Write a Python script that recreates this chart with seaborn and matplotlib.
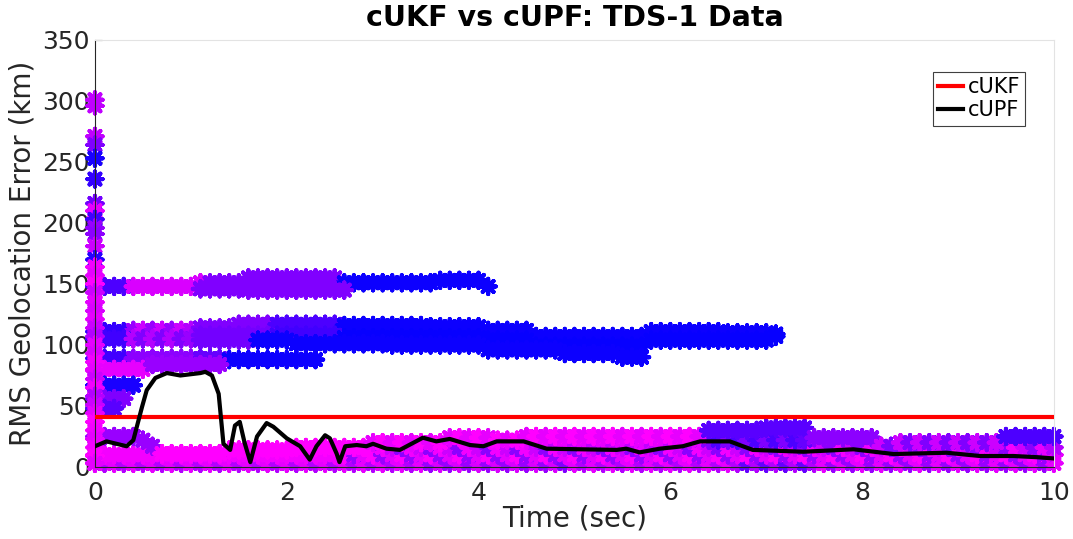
import numpy as np
import pandas as pd
import matplotlib
matplotlib.use("Agg")
import matplotlib.pyplot as plt
from matplotlib.colors import LinearSegmentedColormap
import seaborn as sns

# ---------------- data ----------------
TIME = np.round(np.arange(101) * 0.1, 1)          # particle time grid (sec)

# cUKF (constant)
UKF_T = [0.0, 10.0]
UKF_V = [41, 41]

# cUPF RMS error
UPF_T = [0, 0.12, 0.33, 0.4, 0.49, 0.54, 0.63, 0.75, 0.89, 1.1, 1.15, 1.22, 1.29, 1.34,
         1.41, 1.46, 1.51, 1.56, 1.62, 1.69, 1.79, 1.86, 2.0, 2.14, 2.24, 2.31, 2.4, 2.45,
         2.52, 2.55, 2.61, 2.73, 2.83, 2.9, 3.04, 3.18, 3.42, 3.56, 3.7, 3.91, 4.05, 4.19,
         4.47, 4.71, 5.44, 5.54, 5.68, 5.89, 6.13, 6.31, 6.62, 6.86, 7.39, 7.91, 8.33,
         8.88, 9.23, 9.58, 9.83, 10.0]
UPF_V = [17, 21, 17, 22, 49, 63, 73, 77, 75, 77, 78, 75, 60, 19,
         14, 34, 37, 20, 4, 25, 36, 33, 23.5, 17, 6, 17, 26, 23.5,
         11, 4, 17, 18, 17, 19, 15, 14, 24, 21, 23, 18, 17, 21,
         21, 15, 14, 15, 12, 15, 17, 21, 21, 14, 12.5, 14.5, 10.6,
         11.7, 9, 9, 8, 7]

# particle rows: (start index on TIME grid, y values, weights 0=blue..1=magenta)
BAND_A_HI = [148]*11 + [151]*5 + [155]*10 + [151]*10 + [153]*5 + [148]*1
BAND_A_HI_W = [0.3]*4 + [0.85]*8 + [0.5]*14 + [0.05]*16
BAND_A_LO = [146]*5 + [145]*11
BAND_A_LO_W = [0.5]*16

BAND_B1 = [111]*4 + [112]*7 + [114]*4 + [117]*11 + [116]*9 + [115]*6 + [112]*5 + [107]*12 + [111]*8 + [110]*5 + [109]
BAND_B1_W = [0.2]*4 + [0.6, 0.8]*3 + [0.7] + [0.5]*8 + [0.3]*7 + [0.05]*46
BAND_B2 = [105]*11 + [108]*15 + [106]*15 + [104]*5 + [99]*12 + [104]*13 + [107]
BAND_B2_W = [0.25]*4 + [0.7, 0.5]*3 + [0.6] + [0.45]*8 + [0.25]*7 + [0.03]*46
BAND_B3 = [104]*10 + [101]*10 + [100]*10 + [96]*8 + [93]*6 + [90]*3
BAND_B3_W = [0.45]*6 + [0.05]*41

BAND_C1 = [89]*14 + [88]*10
BAND_C1_W = [0.25]*4 + [0.55]*7 + [0.4]*3 + [0.05]*10
BAND_C2 = [80]*6 + [84]*8
BAND_C2_W = [0.9]*6 + [0.6]*8

SHORT_67 = [67]*5
SHORT_67_W = [0.1]*5
SHORT_56 = [56]*4
SHORT_56_W = [0.5]*4
SHORT_48 = [48]*3
SHORT_48_W = [0.35]*3

LOW_BOT = [3]*101
LOW_BOT_W = [0.9, 0.7]*17 + [0.9] + [0.6, 0.85]*7 + [0.5] + [0.9, 0.7]*9 + [0.4, 0.7]*4 + [0.9, 0.6]*12 + [0.9]
LOW_MID1 = [10]*101
LOW_MID1_W = [0.95]*26 + [1.0, 0.6, 0.9]*25
LOW_MID2 = [16]*71
LOW_MID2_W = [0.95, 0.8, 0.55]*23 + [0.9, 0.7]
LOW_MID3 = [22]*30
LOW_MID3_W = [0.9, 0.75]*9 + [0.9] + [0.5, 0.3]*5 + [0.4]
LOW_TOP = ([25]*5 + [22] + [17] + [11]*7 + [14]*7 + [16]*8 + [20]*8 + [24]*5 + [22]*3 +
           [25]*19 + [30]*6 + [32]*5 + [24]*7 + [17]*2 + [20]*11 + [25]*6)
LOW_TOP_W = ([0.6]*7 + [1.0]*22 + [0.9, 1.0]*17 + [0.9] + [0.35]*11 + [0.55]*7 +
             [0.8, 0.5]*6 + [0.8] + [0.3]*6)

COL0 = [301, 296, 271, 264, 253, 236, 216, 210, 203, 196, 191, 181, 170, 164, 157, 150,
        143, 135, 128, 121, 114, 107, 100, 93, 86, 79, 72, 65, 58, 51, 44, 37, 30, 23, 16, 9, 3]
COL0_W = [0.75, 0.75, 0.75, 0.5, 0.1, 0.2, 0.45, 0.9, 0.25, 0.6, 0.55, 0.8, 0.15, 0.95, 0.9, 1.0,
          0.8, 0.9, 0.85, 0.9, 0.8, 0.7, 0.9, 0.85, 0.95, 0.9, 0.8, 0.95, 0.7, 0.8, 0.9, 1.0,
          0.95, 0.9, 0.95, 1.0, 0.9]

ROWS = [
    (0, BAND_A_HI, BAND_A_HI_W), (11, BAND_A_LO, BAND_A_LO_W),
    (0, BAND_B1, BAND_B1_W), (0, BAND_B2, BAND_B2_W), (11, BAND_B3, BAND_B3_W),
    (0, BAND_C1, BAND_C1_W), (0, BAND_C2, BAND_C2_W),
    (0, SHORT_67, SHORT_67_W), (0, SHORT_56, SHORT_56_W), (0, SHORT_48, SHORT_48_W),
    (0, LOW_BOT, LOW_BOT_W), (0, LOW_MID1, LOW_MID1_W), (30, LOW_MID2, LOW_MID2_W),
    (45, LOW_MID3, LOW_MID3_W), (0, LOW_TOP, LOW_TOP_W),
]

frames = []
for start, vals, w in ROWS:
    n = len(vals)
    frames.append(pd.DataFrame({"t": TIME[start:start + n], "y": vals, "w": w[:n]}))
frames.append(pd.DataFrame({"t": [0.0] * len(COL0), "y": COL0, "w": COL0_W}))
particles = pd.concat(frames, ignore_index=True)

# ---------------- plot ----------------
plt.rcParams["font.family"] = ["DejaVu Sans"]
fig = plt.figure(figsize=(10.73, 5.39), dpi=100)
ax = fig.add_axes([0.0885, 0.1336, 0.8937, 0.7922])

cmap = LinearSegmentedColormap.from_list("bm", ["#0000ff", "#ff00ff"])
sns.scatterplot(data=particles, x="t", y="y", hue="w", palette=cmap, hue_norm=(0, 1),
                marker=(8, 2, 0), s=120, linewidth=3.0, legend=False, ax=ax, zorder=2,
                clip_on=False)

sns.lineplot(x=UKF_T, y=UKF_V, color="#ff0000", linewidth=3, label="cUKF", ax=ax, zorder=3)
sns.lineplot(x=UPF_T, y=UPF_V, color="#000000", linewidth=3, label="cUPF", ax=ax, zorder=4)

ax.set_xlim(0, 10)
ax.set_ylim(0, 350)
ax.set_xticks([0, 2, 4, 6, 8, 10])
ax.set_yticks([0, 50, 100, 150, 200, 250, 300, 350])
ax.tick_params(direction="in", length=5, width=0.8, labelsize=18, colors="#262626",
               top=False, right=False)
ax.tick_params(axis="x", pad=10)
for side in ["left", "bottom"]:
    ax.spines[side].set_color("#262626")
    ax.spines[side].set_linewidth(0.8)
for side in ["top", "right"]:
    ax.spines[side].set_color("#e3e3e3")
    ax.spines[side].set_linewidth(0.8)

ax.set_xlabel("Time (sec)", fontsize=20, color="#262626", labelpad=0)
ax.set_ylabel("RMS Geolocation Error (km)", fontsize=20, color="#262626", labelpad=4)
ax.set_title("cUKF vs cUPF: TDS-1 Data", fontsize=20.5, fontweight="bold", pad=10)

leg = ax.legend(loc="upper right", bbox_to_anchor=(0.97, 0.925), fontsize=15,
                frameon=True, fancybox=False, framealpha=1, handlelength=1.2,
                handletextpad=0.2, borderpad=0.25, labelspacing=0.15, borderaxespad=0)
leg.get_frame().set_edgecolor("#404040")
leg.get_frame().set_linewidth(0.8)

fig.savefig("out.png", dpi=100)
